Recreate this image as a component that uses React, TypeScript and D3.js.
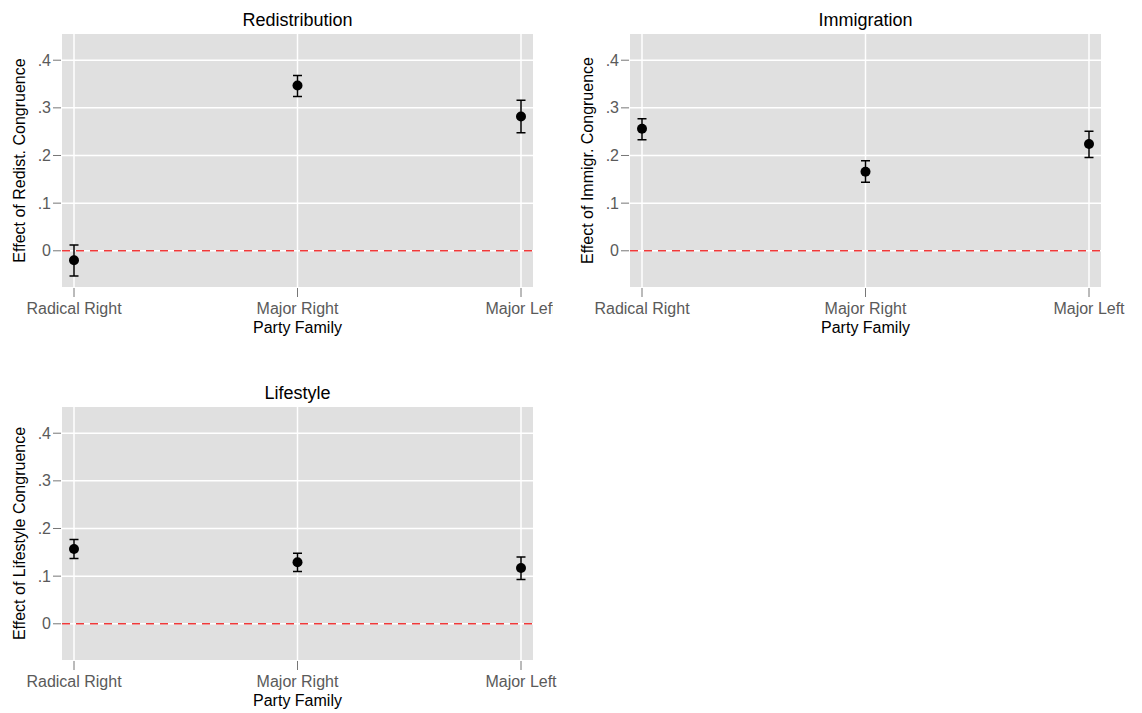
import React, { useEffect, useRef } from "react";
import * as d3 from "d3";

const categories = ["Radical Right", "Major Right", "Major Left"];
const yTicks = [0, 0.1, 0.2, 0.3, 0.4];
const yTickLabels = ["0", ".1", ".2", ".3", ".4"];

const redistEst = [-0.02, 0.347, 0.282];
const redistLo = [-0.053, 0.324, 0.248];
const redistHi = [0.012, 0.368, 0.316];

const immigEst = [0.256, 0.166, 0.224];
const immigLo = [0.233, 0.144, 0.196];
const immigHi = [0.277, 0.189, 0.251];

const lifeEst = [0.157, 0.129, 0.117];
const lifeLo = [0.137, 0.11, 0.093];
const lifeHi = [0.177, 0.148, 0.14];

const FONT = "'Liberation Sans', Arial, Helvetica, sans-serif";

interface Panel {
  title: string;
  ylabel: string;
  est: number[];
  lo: number[];
  hi: number[];
  left: number;
  top: number;
  clipRight?: number;
}

const panels: Panel[] = [
  { title: "Redistribution", ylabel: "Effect of Redist. Congruence", est: redistEst, lo: redistLo, hi: redistHi, left: 62, top: 34, clipRight: 553 },
  { title: "Immigration", ylabel: "Effect of Immigr. Congruence", est: immigEst, lo: immigLo, hi: immigHi, left: 630, top: 34 },
  { title: "Lifestyle", ylabel: "Effect of Lifestyle Congruence", est: lifeEst, lo: lifeLo, hi: lifeHi, left: 62, top: 407 },
];

export default function App() {
  const ref = useRef<SVGSVGElement | null>(null);

  useEffect(() => {
    const svg = d3.select(ref.current);
    svg.selectAll("*").remove();
    const pw = 471;
    const ph = 253;

    panels.forEach((p, idx) => {
      const root = svg.append("g");
      if (p.clipRight) {
        const id = "clip" + idx;
        svg.append("clipPath").attr("id", id).append("rect")
          .attr("x", 0).attr("y", 0).attr("width", p.clipRight).attr("height", 713);
        root.attr("clip-path", `url(#${id})`);
      }
      const g = root.append("g").attr("transform", `translate(${p.left},${p.top})`);

      const x = d3.scalePoint<string>().domain(categories).range([12, pw - 12]);
      const y = d3.scaleLinear().domain([-0.076, 0.455]).range([ph, 0]);

      g.append("rect").attr("width", pw).attr("height", ph).attr("fill", "#e0e0e0");

      // grid
      g.selectAll(".hg").data(yTicks).enter().append("line")
        .attr("x1", 0).attr("x2", pw)
        .attr("y1", d => y(d)).attr("y2", d => y(d))
        .attr("stroke", "#fff").attr("stroke-width", 1.5);
      g.selectAll(".vg").data(categories).enter().append("line")
        .attr("x1", d => x(d)!).attr("x2", d => x(d)!)
        .attr("y1", 0).attr("y2", ph)
        .attr("stroke", "#fff").attr("stroke-width", 1.5);

      // y axis ticks
      g.selectAll(".yt").data(yTicks).enter().append("line")
        .attr("x1", -9).attr("x2", -1)
        .attr("y1", d => y(d)).attr("y2", d => y(d))
        .attr("stroke", "#777").attr("stroke-width", 1);
      g.selectAll(".yl").data(yTicks).enter().append("text")
        .attr("x", -11).attr("y", d => y(d)).attr("dy", "0.35em")
        .attr("text-anchor", "end").attr("font-family", FONT).attr("font-size", 16)
        .attr("fill", "#5a5a5a")
        .text((d, i) => yTickLabels[i]);

      // x axis ticks
      g.selectAll(".xt").data(categories).enter().append("line")
        .attr("x1", d => x(d)!).attr("x2", d => x(d)!)
        .attr("y1", ph + 1).attr("y2", ph + 10)
        .attr("stroke", "#777").attr("stroke-width", 1);
      g.selectAll(".xl").data(categories).enter().append("text")
        .attr("x", d => x(d)!).attr("y", ph + 21).attr("dy", "0.35em")
        .attr("text-anchor", "middle").attr("font-family", FONT).attr("font-size", 16)
        .attr("fill", "#5a5a5a")
        .text(d => d);

      // zero line
      g.append("line")
        .attr("x1", 0).attr("x2", pw).attr("y1", y(0)).attr("y2", y(0))
        .attr("stroke", "#f03a3a").attr("stroke-width", 1.5)
        .attr("stroke-dasharray", "8,6");

      // error bars
      const idxs = d3.range(categories.length);
      const cap = 4.5;
      g.selectAll(".eb").data(idxs).enter().append("path")
        .attr("d", i => {
          const cx = x(categories[i])!;
          const yl = y(p.lo[i]);
          const yh = y(p.hi[i]);
          return `M${cx - cap},${yh}H${cx + cap}M${cx},${yh}V${yl}M${cx - cap},${yl}H${cx + cap}`;
        })
        .attr("fill", "none").attr("stroke", "#000").attr("stroke-width", 1.5);
      g.selectAll(".pt").data(idxs).enter().append("circle")
        .attr("cx", i => x(categories[i])!).attr("cy", i => y(p.est[i]))
        .attr("r", 5).attr("fill", "#000");

      // titles
      g.append("text")
        .attr("x", pw / 2).attr("y", -14).attr("dy", "0.35em")
        .attr("text-anchor", "middle").attr("font-family", FONT).attr("font-size", 18)
        .attr("fill", "#000").text(p.title);
      g.append("text")
        .attr("x", x(categories[1])!).attr("y", ph + 40).attr("dy", "0.35em")
        .attr("text-anchor", "middle").attr("font-family", FONT).attr("font-size", 16)
        .attr("fill", "#000").text("Party Family");
      g.append("text")
        .attr("transform", `translate(${-43},${ph / 2}) rotate(-90)`)
        .attr("dy", "0.35em")
        .attr("text-anchor", "middle").attr("font-family", FONT).attr("font-size", 16)
        .attr("fill", "#000").text(p.ylabel);
    });
  }, []);

  return (
    <div style={{ position: "absolute", left: 0, top: 0 }}>
      <svg ref={ref} width={1142} height={713} style={{ display: "block", background: "#fff" }} />
    </div>
  );
}
